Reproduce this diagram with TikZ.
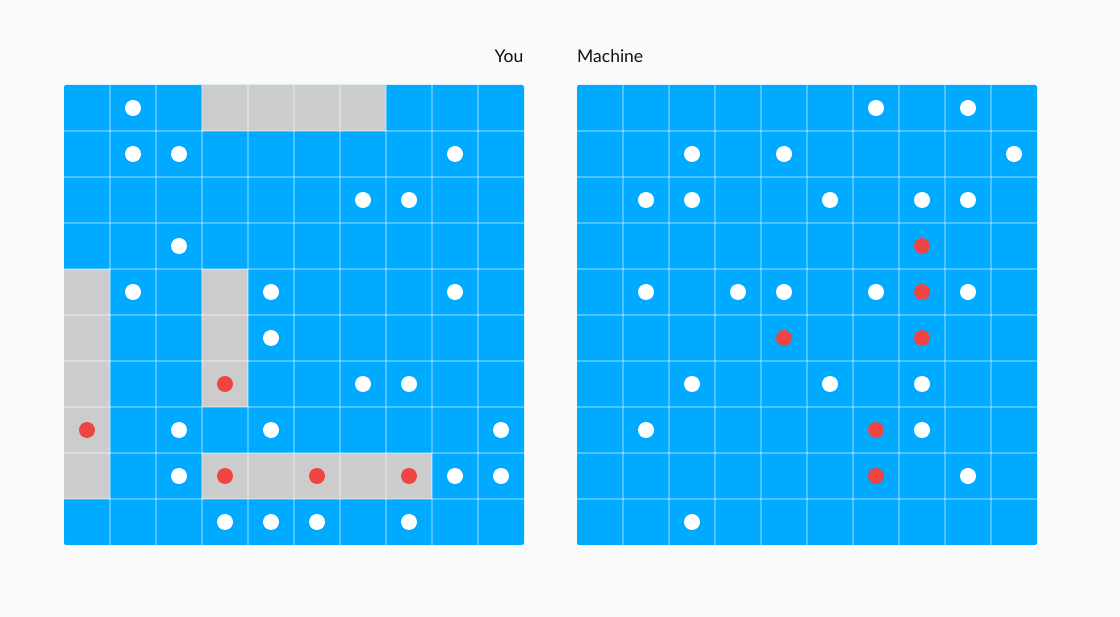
\documentclass[tikz,border=0pt]{standalone}
\usepackage{fontspec}
\setmainfont{Lato}
\definecolor{bg}{HTML}{FAFAFA}
\definecolor{cellblue}{HTML}{00AAFF}
\definecolor{cellgray}{HTML}{CCCCCC}
\definecolor{dotred}{HTML}{EF4444}
\definecolor{txt}{HTML}{111111}
\definecolor{linecol}{HTML}{55C4FF}
\tikzset{
  board/.style={fill=cellblue, rounded corners=2pt},
  graycell/.style={fill=cellgray},
  gridline/.style={draw=white, draw opacity=0.3, line width=1.8pt},
  wdot/.style={fill=white},
  rdot/.style={fill=dotred},
  title/.style={font=\fontsize{17.5}{21}\selectfont, text=txt, inner sep=0pt}
}
\newcommand{\Wl}[2]{\fill[wdot] ({64+46*#1+23},{85+46*#2+23}) circle (8);}
\newcommand{\Rl}[2]{\fill[rdot] ({64+46*#1+23},{85+46*#2+23}) circle (8);}
\newcommand{\Wr}[2]{\fill[wdot] ({577+46*#1+23},{85+46*#2+23}) circle (8);}
\newcommand{\Rr}[2]{\fill[rdot] ({577+46*#1+23},{85+46*#2+23}) circle (8);}
\newcommand{\Gl}[2]{\fill[graycell] ({64+46*#1},{85+46*#2}) rectangle ++(46,46);}
\begin{document}
\begin{tikzpicture}[x=1pt,y=-1pt]
\fill[bg] (0,0) rectangle (1120,617);
\useasboundingbox (0,0) rectangle (1120,617);
% titles
\node[title, anchor=base east] (you) at (523.5,63) {You};
\node[title, anchor=base west] (machine) at (577,63) {Machine};
% boards
\fill[board] (64,85) rectangle (524,545);
\fill[board] (577,85) rectangle (1037,545);
% gray cells left
\foreach \c in {3,4,5,6} {\Gl{\c}{0}}
\foreach \r in {4,5,6,7,8} {\Gl{0}{\r}}
\foreach \r in {4,5,6} {\Gl{3}{\r}}
\foreach \c in {3,4,5,6,7} {\Gl{\c}{8}}
% grid lines
\foreach \k in {1,...,9} {
  \draw[gridline] ({64+46*\k},85) -- ({64+46*\k},545);
  \draw[gridline] (64,{85+46*\k}) -- (524,{85+46*\k});
  \draw[gridline] ({577+46*\k},85) -- ({577+46*\k},545);
  \draw[gridline] (577,{85+46*\k}) -- (1037,{85+46*\k});
}
% left dots
\Wl{1}{0}
\Wl{1}{1}\Wl{2}{1}\Wl{8}{1}
\Wl{6}{2}\Wl{7}{2}
\Wl{2}{3}
\Wl{1}{4}\Wl{4}{4}\Wl{8}{4}
\Wl{4}{5}
\Rl{3}{6}\Wl{6}{6}\Wl{7}{6}
\Rl{0}{7}\Wl{2}{7}\Wl{4}{7}\Wl{9}{7}
\Wl{2}{8}\Rl{3}{8}\Rl{5}{8}\Rl{7}{8}\Wl{8}{8}\Wl{9}{8}
\Wl{3}{9}\Wl{4}{9}\Wl{5}{9}\Wl{7}{9}
% right dots
\Wr{6}{0}\Wr{8}{0}
\Wr{2}{1}\Wr{4}{1}\Wr{9}{1}
\Wr{1}{2}\Wr{2}{2}\Wr{5}{2}\Wr{7}{2}\Wr{8}{2}
\Rr{7}{3}
\Wr{1}{4}\Wr{3}{4}\Wr{4}{4}\Wr{6}{4}\Rr{7}{4}\Wr{8}{4}
\Rr{4}{5}\Rr{7}{5}
\Wr{2}{6}\Wr{5}{6}\Wr{7}{6}
\Wr{1}{7}\Rr{6}{7}\Wr{7}{7}
\Rr{6}{8}\Wr{8}{8}
\Wr{2}{9}
\end{tikzpicture}
\end{document}
